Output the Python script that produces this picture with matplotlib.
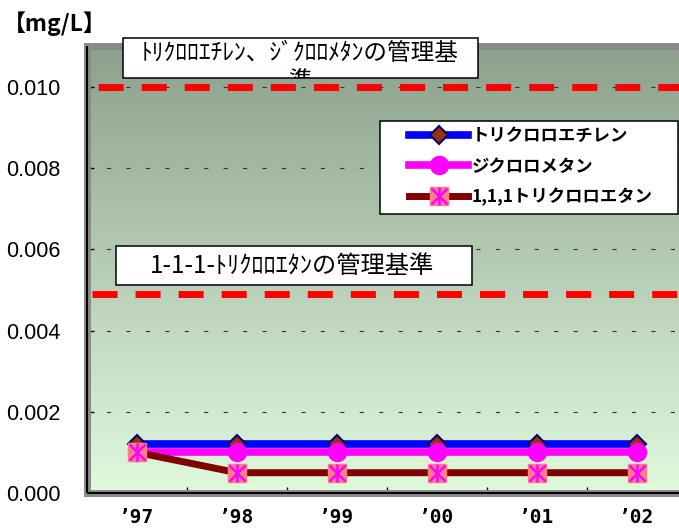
import numpy as np
import matplotlib
matplotlib.use("Agg")
import matplotlib.pyplot as plt
from matplotlib.patches import Rectangle
from matplotlib.legend_handler import HandlerTuple
from matplotlib.font_manager import FontProperties

# ---- data -------------------------------------------------------------
years = ["’97", "’98", "’99", "’00", "’01", "’02"]
trichloroethylene = [0.0012, 0.0012, 0.0012, 0.0012, 0.0012, 0.0012]
dichloromethane = [0.0010, 0.0010, 0.0010, 0.0010, 0.0010, 0.0010]
trichloroethane = [0.0010, 0.0005, 0.0005, 0.0005, 0.0005, 0.0005]
series_names = ["トリクロロエチレン", "ジクロロメタン", "1,1,1トリクロロエタン"]

limit_values = [0.010, 0.0049]
limit_labels = ["ﾄﾘｸﾛﾛｴﾁﾚﾝ、ｼﾞｸﾛﾛﾒﾀﾝの管理基", "1-1-1-ﾄﾘｸﾛﾛｴﾀﾝの管理基準"]
limit_label_wrap = "準"

y_ticks = [0.000, 0.002, 0.004, 0.006, 0.008, 0.010]
y_unit = "【mg/L】"

# ---- style ------------------------------------------------------------
plt.rcParams["lines.scale_dashes"] = False
JP = ["Noto Sans CJK JP", "DejaVu Sans"]

W, H = 679, 530
fig = plt.figure(figsize=(W / 100, H / 100), dpi=100)
fig.patch.set_facecolor("white")


def fx(px):
    return px / W


def fy(py):
    return 1 - py / H


ax = fig.add_axes([fx(87), fy(493), (687 - 87) / W, (493 - 46.4) / H])
ax.set_xlim(-0.5, 5.5)
ax.set_ylim(0, 0.011)

# plot-area gradient: darker grey-green at the top, pale green at the bottom
top_c = np.array([0.55, 0.63, 0.55])
bot_c = np.array([0.88, 0.98, 0.87])
t = np.linspace(0, 1, 256)[:, None, None]
grad = bot_c[None, None, :] * (1 - t) + top_c[None, None, :] * t
ax.imshow(grad, extent=[-0.5, 5.5, 0, 0.011], origin="lower",
          aspect="auto", zorder=0, interpolation="bilinear")

for s in ax.spines.values():
    s.set_color("#8a8a8a")
    s.set_linewidth(5)
ax.plot([0, 0], [0, 1], transform=ax.transAxes, color="black", lw=1.5,
        clip_on=False, zorder=7, solid_capstyle="butt")
ax.plot([0, 1], [0, 0], transform=ax.transAxes, color="black", lw=1.5,
        clip_on=False, zorder=7, solid_capstyle="butt")

# grid
ax.set_yticks(y_ticks)
ax.set_yticklabels([f"{v:.3f}" for v in y_ticks],
                   fontfamily="Liberation Sans", fontsize=15.5)
ax.yaxis.grid(True, color="#333333", lw=0.8, linestyle=(0, (3, 11)))
ax.set_axisbelow(True)
ax.tick_params(axis="y", direction="in", length=5, width=1, pad=19,
               colors="black")

x = np.arange(len(years))
ax.set_xticks(x)
ax.set_xticklabels(years, fontfamily="DejaVu Sans Mono", fontweight="bold",
                   fontsize=14)
ax.set_xticks(x[:-1] + 0.5, minor=True)
ax.tick_params(axis="x", which="major", length=0, pad=11)
ax.tick_params(axis="x", which="minor", direction="in", length=4, width=1)

# management standard lines
ax.axhline(limit_values[0], color="red", lw=5,
           linestyle=(23, (18, 13)), zorder=2, dash_capstyle="butt")
ax.axhline(limit_values[1], color="red", lw=5,
           linestyle=(27.4, (18, 13)), zorder=2, dash_capstyle="butt")

# data series
l1, = ax.plot(x, trichloroethylene, color="#0000ff", lw=5.5, marker="D",
              ms=9, mfc="#993300", mec="#000080", mew=1.5, zorder=3,
              clip_on=False)
l2, = ax.plot(x, dichloromethane, color="#ff00ff", lw=5.5, marker="o",
              ms=13, mfc="#ff00ff", mec="#ff00ff", zorder=4, clip_on=False)
l3, = ax.plot(x, trichloroethane, color="#800000", lw=5, marker="s",
              ms=12.5, mfc="#ff8080", mec="#ff8080", zorder=5, clip_on=False)
l3x, = ax.plot(x, trichloroethane, ls="none", marker="x", ms=11,
               mec="#ff00ff", mew=1.8, zorder=6, clip_on=False)
l3v, = ax.plot(x, trichloroethane, ls="none", marker="|", ms=12.5,
               mec="#ff00ff", mew=1.8, zorder=6, clip_on=False)

# legend box
ax.add_patch(Rectangle((fx(380), fy(214)), fx(298), 93 / H,
                       transform=fig.transFigure, facecolor="white",
                       edgecolor="black", lw=1.1, zorder=10, clip_on=False))
leg = ax.legend([l1, l2, (l3, l3x, l3v)], series_names,
                handler_map={tuple: HandlerTuple(ndivide=1, pad=0)},
                loc="upper left", bbox_to_anchor=(fx(409), fy(127)),
                bbox_transform=fig.transFigure, frameon=False,
                borderpad=0, borderaxespad=0, handlelength=3.4,
                handletextpad=0.2, labelspacing=0.72,
                prop=FontProperties(family=JP, weight="bold", size=12.5))
leg.set_zorder(12)

# standard label boxes
box1 = Rectangle((fx(123), fy(78)), fx(355), 40 / H,
                 transform=fig.transFigure, facecolor="white",
                 edgecolor="black", lw=1.1, zorder=10, clip_on=False)
ax.add_patch(box1)
ax.text(fx(300), fy(54), limit_labels[0], transform=fig.transFigure,
        ha="center", va="center", fontsize=17, family=JP, zorder=11)
wrap = ax.text(fx(300), fy(81), limit_label_wrap, transform=fig.transFigure,
               ha="center", va="center", fontsize=17, family=JP, zorder=11,
               clip_on=True)
wrap.set_clip_path(box1)

box2 = Rectangle((fx(116), fy(285)), fx(356), 39 / H,
                 transform=fig.transFigure, facecolor="white",
                 edgecolor="black", lw=1.1, zorder=10, clip_on=False)
ax.add_patch(box2)
ax.text(fx(292), fy(266), limit_labels[1], transform=fig.transFigure,
        ha="center", va="center", fontsize=17.5, family=JP, zorder=11)

fig.text(fx(3), fy(24), y_unit, ha="left", va="center", fontsize=16.5,
         fontweight="bold", family=JP)

fig.savefig("out.png", dpi=100)
